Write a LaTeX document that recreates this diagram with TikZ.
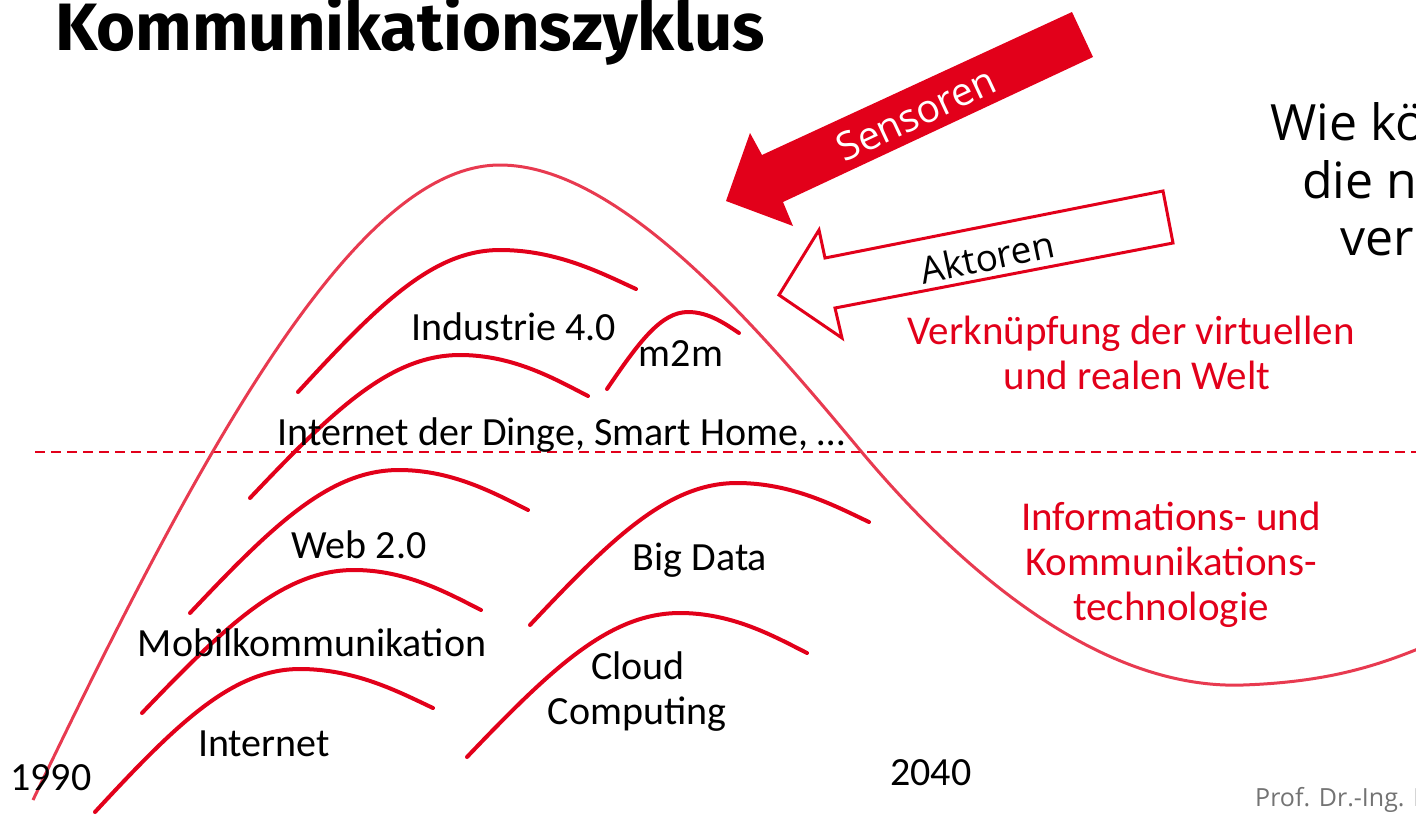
\documentclass[tikz,border=0pt]{standalone}
\usepackage{fontspec}
\setmainfont{Carlito}
\newfontfamily\headfont{Fira Sans}
\newfontfamily\arrowfont{Open Sans}
\definecolor{hsred}{RGB}{226,0,26}
\definecolor{cyclered}{RGB}{232,58,80}
\tikzset{
	hump/.style={hsred, line width=4pt, line cap=round},
	lbl/.style={font=\fontsize{40}{46}\selectfont, inner sep=0pt, anchor=base},
	redlbl/.style={lbl, font=\fontsize{41}{46}\selectfont, text=hsred},
	sidetxt/.style={font=\arrowfont\fontsize{50}{56}\selectfont, inner sep=0pt, anchor=base west},
}
\begin{document}
\begin{tikzpicture}[x=1pt, y=-1pt]
		\clip (0,0) rectangle (1416,815);
		%title
		\node[anchor=base west, inner sep=0pt, font=\headfont\bfseries\fontsize{67}{72}\selectfont] (title) at (55,50) {Kommunikationszyklus};
		
		%border between the two worlds
		\draw[hsred, line width=1.5pt, dash pattern=on 10pt off 6pt] (35,452) -- (1416,452);
		
		%big cycle
		\draw[cyclered, line width=3pt] (33,800) .. controls (210,430) and (360,165) .. (500,165)
			.. controls (620,165) and (760,330) .. (860,450)
			.. controls (960,570) and (1100,690) .. (1243,685)
			.. controls (1330,682) and (1380,665) .. (1430,644);
		
		%small humps: start / peak / end
		\foreach \sx/\sy/\px/\py/\ex/\ey in {298/392/500/250/636/289, 250/498/460/355/588/396,
			607/389/688/312/739/333, 190/613/399/470/528/510, 142/713/354/570/481/610,
			95/812/300/669/433/708, 530/625/737/483/869/522, 467/757/680/613/807/653}{
			\draw[hump] (\sx,\sy) .. controls ({\sx+0.4*(\px-\sx)},{\sy+0.62*(\py-\sy)}) and ({\sx+0.67*(\px-\sx)},\py) .. (\px,\py)
				.. controls ({\px+0.42*(\ex-\px)},\py) and ({\px+0.75*(\ex-\px)},{\py+0.6*(\ey-\py)}) .. (\ex,\ey);
		}
		
		%arrows
		\fill[hsred] (1072,12) -- (762,155) -- (750,133) -- (726,201) -- (793,226) -- (783,202) -- (1093,57) -- cycle;
		\draw[hsred, line width=3pt, fill=white, line join=miter] (1163,191) -- (825,258) -- (819,230) -- (779,295) -- (842,338) -- (835,308) -- (1173,243) -- cycle;
		\node[rotate=25, text=white, inner sep=0pt, font=\arrowfont\fontsize{39}{42}\selectfont] (sens) at (916,114) {Sensoren};
		\node[rotate=12, inner sep=0pt, font=\arrowfont\fontsize{37}{40}\selectfont] (akt) at (987,257) {Aktoren};
		
		%labels
		\node[lbl] (ind) at (514,340) {Industrie 4.0};
		\node[lbl] (mtm) at (681,366) {m2m};
		\node[lbl] (iot) at (561,445) {Internet der Dinge, Smart Home, \dots};
		\node[lbl] (web) at (359,558) {Web 2.0};
		\node[lbl] (big) at (700,570) {Big Data};
		\node[lbl] (mob) at (312,656) {Mobilkommunikation};
		\node[lbl] (cloud) at (638,679) {Cloud};
		\node[lbl] (comp) at (637,724) {Computing};
		\node[lbl] (inet) at (264,756) {Internet};
		\node[lbl, anchor=base west] (start) at (10,790) {1990};
		\node[lbl, anchor=base west] (stop) at (890,785) {2040};
		
		\node[redlbl] (vk1) at (1131,344) {Verknüpfung der virtuellen};
		\node[redlbl] (vk2) at (1137,389) {und realen Welt};
		\node[redlbl] (ikt1) at (1171,530) {Informations- und};
		\node[redlbl] (ikt2) at (1171,575) {Kommunikations-};
		\node[redlbl] (ikt3) at (1171,620) {technologie};
		
		%question on the right
		\node[sidetxt] (q1) at (1270,140) {Wie kö};
		\node[sidetxt] (q2) at (1302,198) {die ne};
		\node[sidetxt] (q3) at (1340,255) {ver};
		
		\node[anchor=base west, inner sep=0pt, text=black!55, font=\arrowfont\fontsize{25}{28}\selectfont] (prof) at (1255,806) {Prof. Dr.-Ing. D};
\end{tikzpicture}
\end{document}
